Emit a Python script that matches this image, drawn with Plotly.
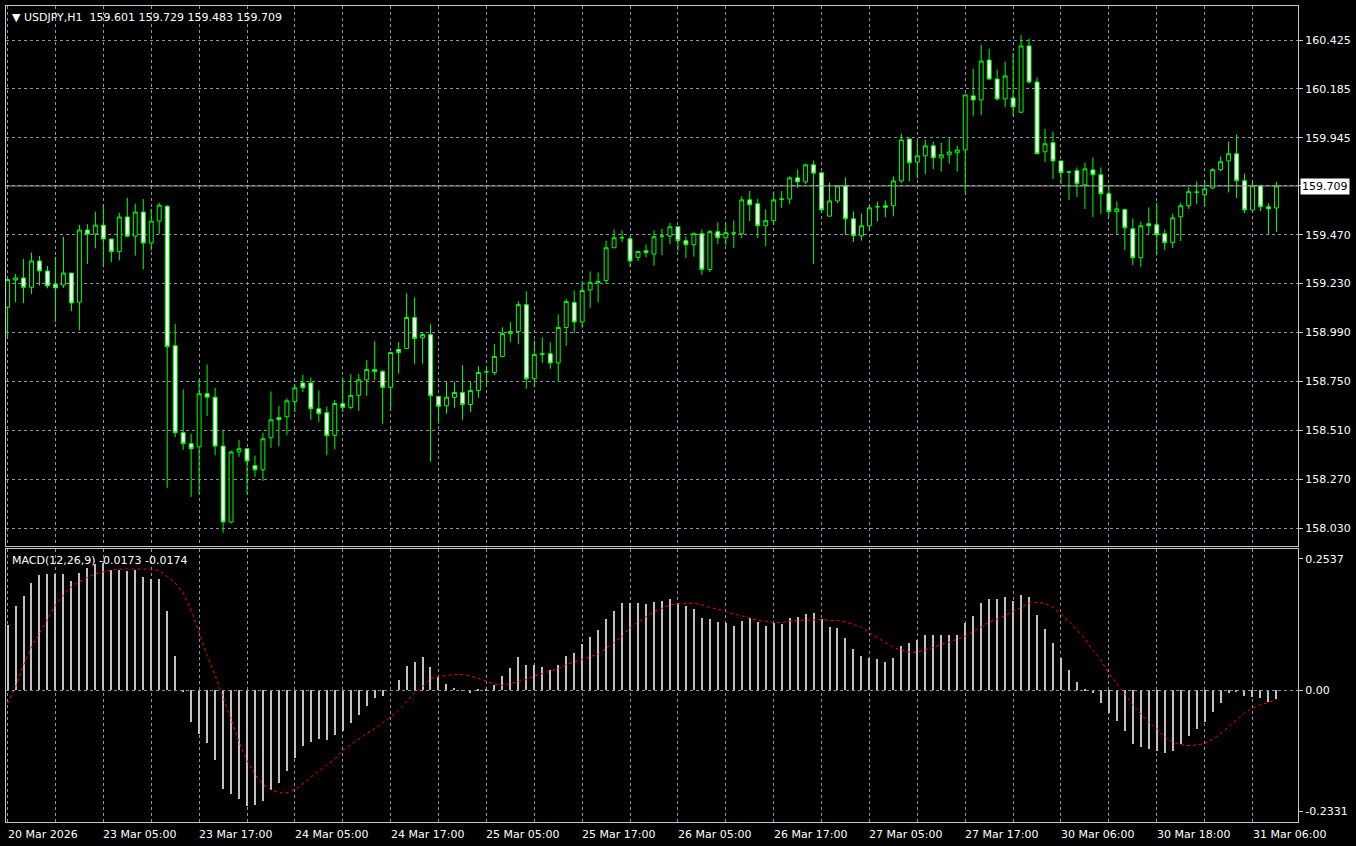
import plotly.graph_objects as go

# hourly USDJPY bars, oldest first
opens = [
    159.114, 159.248, 159.258, 159.212, 159.341, 159.292, 159.227, 159.223, 159.282, 159.139,
    159.493, 159.473, 159.517, 159.449, 159.388, 159.557, 159.463, 159.581, 159.429, 159.537,
    159.610, 158.925, 158.499, 158.445, 158.429, 158.690, 158.673, 158.433, 158.061, 158.404,
    158.420, 158.337, 158.317, 158.474, 158.573, 158.577, 158.651, 158.743, 158.743, 158.616,
    158.597, 158.486, 158.641, 158.623, 158.682, 158.758, 158.809, 158.799, 158.721, 158.907,
    158.912, 159.064, 158.964, 158.980, 158.677, 158.631, 158.672, 158.696, 158.637, 158.706,
    158.797, 158.794, 158.873, 158.985, 158.995, 159.127, 158.763, 158.882, 158.886, 158.841,
    159.015, 159.137, 159.042, 159.199, 159.235, 159.245, 159.406, 159.455, 159.450, 159.359,
    159.391, 159.375, 159.463, 159.463, 159.509, 159.441, 159.421, 159.475, 159.299, 159.485,
    159.455, 159.478, 159.475, 159.641, 159.622, 159.514, 159.539, 159.643, 159.645, 159.749,
    159.729, 159.813, 159.774, 159.561, 159.636, 159.710, 159.548, 159.465, 159.514, 159.607,
    159.612, 159.612, 159.734, 159.940, 159.826, 159.857, 159.906, 159.847, 159.862, 159.872,
    159.886, 160.151, 160.131, 160.327, 160.234, 160.136, 160.141, 160.071, 160.396, 160.219,
    159.877, 159.921, 159.832, 159.777, 159.784, 159.715, 159.788, 159.764, 159.671, 159.583,
    159.593, 159.499, 159.357, 159.524, 159.519, 159.475, 159.431, 159.558, 159.612, 159.679,
    159.666, 159.699, 159.789, 159.832, 159.867, 159.735, 159.591, 159.710, 159.607, 159.601,
]
highs = [
    159.250, 159.277, 159.351, 159.382, 159.366, 159.317, 159.361, 159.460, 159.282, 159.519,
    159.522, 159.583, 159.615, 159.449, 159.578, 159.651, 159.622, 159.645, 159.597, 159.627,
    159.615, 159.033, 158.711, 158.494, 158.760, 158.833, 158.719, 158.513, 158.412, 158.464,
    158.420, 158.386, 158.499, 158.701, 158.631, 158.667, 158.735, 158.783, 158.770, 158.706,
    158.627, 158.659, 158.770, 158.786, 158.786, 158.855, 158.948, 158.806, 158.892, 158.943,
    159.183, 159.163, 158.992, 159.031, 158.677, 158.748, 158.748, 158.830, 158.748, 158.825,
    158.825, 158.933, 159.016, 159.041, 159.144, 159.193, 158.952, 158.967, 158.943, 159.080,
    159.155, 159.197, 159.241, 159.290, 159.285, 159.441, 159.496, 159.491, 159.462, 159.388,
    159.422, 159.491, 159.499, 159.529, 159.509, 159.462, 159.481, 159.496, 159.493, 159.530,
    159.527, 159.540, 159.658, 159.685, 159.646, 159.594, 159.682, 159.685, 159.756, 159.790,
    159.819, 159.834, 159.774, 159.726, 159.710, 159.751, 159.584, 159.574, 159.617, 159.633,
    159.638, 159.756, 159.966, 159.940, 159.935, 159.937, 159.927, 159.922, 159.943, 159.907,
    160.156, 160.285, 160.402, 160.383, 160.280, 160.319, 160.363, 160.449, 160.431, 160.241,
    159.989, 159.976, 159.832, 159.784, 159.800, 159.824, 159.849, 159.800, 159.715, 159.633,
    159.599, 159.550, 159.535, 159.604, 159.627, 159.496, 159.574, 159.627, 159.702, 159.731,
    159.735, 159.797, 159.854, 159.927, 159.961, 159.770, 159.733, 159.715, 159.624, 159.729,
]
lows = [
    158.959, 159.139, 159.134, 159.179, 159.220, 159.207, 159.041, 159.209, 159.095, 159.002,
    159.326, 159.403, 159.315, 159.335, 159.344, 159.457, 159.367, 159.300, 159.393, 159.473,
    158.228, 158.477, 158.415, 158.184, 158.200, 158.580, 158.388, 158.007, 158.053, 158.380,
    158.200, 158.282, 158.262, 158.424, 158.433, 158.486, 158.600, 158.698, 158.562, 158.551,
    158.388, 158.417, 158.600, 158.613, 158.606, 158.680, 158.757, 158.543, 158.613, 158.788,
    158.912, 158.837, 158.837, 158.357, 158.543, 158.592, 158.621, 158.562, 158.600, 158.670,
    158.735, 158.781, 158.868, 158.944, 158.933, 158.714, 158.721, 158.841, 158.812, 158.752,
    158.925, 158.988, 159.013, 159.111, 159.138, 159.230, 159.406, 159.434, 159.312, 159.341,
    159.359, 159.318, 159.369, 159.424, 159.392, 159.356, 159.362, 159.273, 159.287, 159.424,
    159.418, 159.405, 159.454, 159.537, 159.454, 159.414, 159.517, 159.601, 159.620, 159.699,
    159.718, 159.326, 159.578, 159.561, 159.625, 159.470, 159.434, 159.441, 159.488, 159.535,
    159.555, 159.560, 159.723, 159.731, 159.747, 159.767, 159.792, 159.780, 159.819, 159.780,
    159.674, 160.050, 160.056, 160.227, 160.128, 160.095, 160.053, 160.066, 160.211, 159.867,
    159.826, 159.743, 159.718, 159.640, 159.655, 159.596, 159.557, 159.572, 159.558, 159.473,
    159.395, 159.321, 159.311, 159.473, 159.368, 159.395, 159.405, 159.439, 159.596, 159.620,
    159.607, 159.695, 159.782, 159.677, 159.650, 159.576, 159.591, 159.586, 159.469, 159.483,
]
closes = [
    159.250, 159.258, 159.212, 159.341, 159.292, 159.219, 159.209, 159.282, 159.135, 159.493,
    159.473, 159.517, 159.449, 159.387, 159.557, 159.463, 159.581, 159.429, 159.537, 159.615,
    158.921, 158.499, 158.445, 158.420, 158.690, 158.673, 158.433, 158.061, 158.404, 158.420,
    158.360, 158.317, 158.469, 158.562, 158.562, 158.655, 158.719, 158.719, 158.616, 158.592,
    158.484, 158.642, 158.623, 158.682, 158.758, 158.809, 158.799, 158.721, 158.892, 158.892,
    159.064, 158.961, 158.980, 158.680, 158.628, 158.673, 158.696, 158.637, 158.706, 158.794,
    158.797, 158.873, 158.985, 158.995, 159.127, 158.763, 158.882, 158.886, 158.841, 159.015,
    159.142, 159.042, 159.196, 159.235, 159.241, 159.406, 159.455, 159.455, 159.341, 159.388,
    159.382, 159.460, 159.463, 159.509, 159.441, 159.421, 159.475, 159.299, 159.485, 159.455,
    159.480, 159.478, 159.641, 159.617, 159.514, 159.539, 159.641, 159.645, 159.749, 159.729,
    159.813, 159.772, 159.592, 159.636, 159.710, 159.548, 159.465, 159.514, 159.602, 159.607,
    159.605, 159.734, 159.935, 159.823, 159.857, 159.906, 159.847, 159.862, 159.876, 159.886,
    160.156, 160.131, 160.322, 160.234, 160.136, 160.249, 160.097, 160.396, 160.219, 159.867,
    159.916, 159.832, 159.774, 159.777, 159.720, 159.793, 159.764, 159.671, 159.584, 159.597,
    159.504, 159.357, 159.514, 159.514, 159.470, 159.431, 159.553, 159.612, 159.681, 159.679,
    159.695, 159.789, 159.828, 159.867, 159.735, 159.592, 159.710, 159.607, 159.597, 159.709,
]
macd_hist = [
    0.126, 0.161, 0.182, 0.207, 0.221, 0.223, 0.223, 0.223, 0.210, 0.226,
    0.236, 0.242, 0.245, 0.232, 0.231, 0.230, 0.231, 0.217, 0.213, 0.213,
    0.152, 0.066, -0.003, -0.061, -0.084, -0.101, -0.135, -0.190, -0.200, -0.209,
    -0.223, -0.221, -0.213, -0.193, -0.178, -0.155, -0.130, -0.107, -0.099, -0.094,
    -0.097, -0.086, -0.079, -0.064, -0.047, -0.030, -0.016, -0.012, 0.000, 0.020,
    0.047, 0.055, 0.064, 0.045, 0.026, 0.012, 0.005, -0.001, -0.006, 0.001,
    0.001, 0.010, 0.028, 0.043, 0.064, 0.049, 0.048, 0.045, 0.039, 0.049,
    0.066, 0.072, 0.088, 0.103, 0.115, 0.136, 0.153, 0.167, 0.167, 0.167,
    0.165, 0.169, 0.171, 0.175, 0.168, 0.161, 0.157, 0.138, 0.136, 0.132,
    0.129, 0.124, 0.134, 0.138, 0.131, 0.124, 0.129, 0.128, 0.138, 0.140,
    0.147, 0.149, 0.136, 0.122, 0.120, 0.101, 0.080, 0.066, 0.061, 0.059,
    0.055, 0.062, 0.084, 0.091, 0.097, 0.107, 0.107, 0.107, 0.107, 0.107,
    0.129, 0.142, 0.167, 0.176, 0.175, 0.180, 0.171, 0.184, 0.180, 0.144,
    0.118, 0.090, 0.061, 0.039, 0.016, 0.003, -0.006, -0.024, -0.044, -0.059,
    -0.078, -0.103, -0.109, -0.113, -0.118, -0.122, -0.117, -0.104, -0.088, -0.074,
    -0.062, -0.043, -0.024, -0.006, -0.003, -0.012, -0.014, -0.016, -0.022, -0.0173,
]
macd_signal = [
    -0.025, 0.007, 0.049, 0.084, 0.110, 0.139, 0.165, 0.184, 0.200, 0.210,
    0.218, 0.225, 0.229, 0.232, 0.234, 0.234, 0.234, 0.234, 0.234, 0.231,
    0.220, 0.207, 0.188, 0.155, 0.110, 0.068, 0.030, -0.012, -0.057, -0.099,
    -0.135, -0.162, -0.180, -0.191, -0.197, -0.197, -0.191, -0.180, -0.167, -0.155,
    -0.143, -0.132, -0.115, -0.104, -0.094, -0.083, -0.073, -0.062, -0.051, -0.038,
    -0.022, -0.005, 0.008, 0.023, 0.027, 0.029, 0.031, 0.031, 0.028, 0.024,
    0.018, 0.012, 0.010, 0.014, 0.017, 0.021, 0.028, 0.033, 0.037, 0.042,
    0.050, 0.055, 0.059, 0.065, 0.070, 0.081, 0.092, 0.104, 0.122, 0.131,
    0.142, 0.152, 0.158, 0.165, 0.167, 0.168, 0.168, 0.165, 0.160, 0.157,
    0.152, 0.147, 0.144, 0.139, 0.135, 0.133, 0.131, 0.131, 0.134, 0.135,
    0.136, 0.137, 0.137, 0.135, 0.135, 0.132, 0.127, 0.122, 0.111, 0.102,
    0.092, 0.083, 0.078, 0.074, 0.074, 0.078, 0.083, 0.089, 0.093, 0.099,
    0.105, 0.113, 0.123, 0.132, 0.138, 0.144, 0.152, 0.160, 0.168, 0.170,
    0.168, 0.160, 0.146, 0.133, 0.117, 0.099, 0.078, 0.059, 0.033, 0.014,
    -0.006, -0.028, -0.044, -0.061, -0.073, -0.090, -0.099, -0.104, -0.106, -0.105,
    -0.102, -0.094, -0.083, -0.070, -0.057, -0.043, -0.034, -0.027, -0.023, -0.0174,
]
time_labels = ["20 Mar 2026", "23 Mar 05:00", "23 Mar 17:00", "24 Mar 05:00", "24 Mar 17:00",
               "25 Mar 05:00", "25 Mar 17:00", "26 Mar 05:00", "26 Mar 17:00", "27 Mar 05:00",
               "27 Mar 17:00", "30 Mar 06:00", "30 Mar 18:00", "31 Mar 06:00"]
price_ticks = [158.030, 158.270, 158.510, 158.750, 158.990, 159.230, 159.470,
               159.710, 159.945, 160.185, 160.425]
price_tick_text = ["158.030", "158.270", "158.510", "158.750", "158.990", "159.230", "159.470",
                   "", "159.945", "160.185", "160.425"]
macd_ticks = [-0.2331, 0.0, 0.2537]
macd_tick_text = ["-0.2331", "0.00", "0.2537"]
last_price = 159.709

bars = list(range(len(closes)))
GRID = "#8a94a6"
DASH = "3px,3px"
FONT = "DejaVu Sans"
x_range = [-0.2, 161.7]

fig = go.Figure()
fig.add_trace(go.Candlestick(
    x=bars, open=opens, high=highs, low=lows, close=closes,
    increasing=dict(line=dict(color="#00ff00", width=1), fillcolor="black"),
    decreasing=dict(line=dict(color="#00ff00", width=1), fillcolor="white"),
    whiskerwidth=0, xaxis="x", yaxis="y", hoverinfo="skip",
))
fig.add_trace(go.Bar(x=bars, y=macd_hist, width=0.14, marker=dict(color="#c0c0c0", line_width=0),
                     xaxis="x2", yaxis="y2"))
fig.add_trace(go.Scatter(x=bars, y=macd_signal, mode="lines",
                         line=dict(color="red", width=1, dash="dot"), xaxis="x2", yaxis="y2"))

xaxis_common = dict(range=x_range, tickmode="linear", tick0=0, dtick=6, showticklabels=False,
                    showgrid=True, gridcolor=GRID, griddash=DASH, gridwidth=1, zeroline=False,
                    showline=True, linecolor="#c8c8c8", mirror=True, rangeslider=dict(visible=False))

fig.update_layout(
    width=1356, height=846,
    paper_bgcolor="black", plot_bgcolor="black",
    margin=dict(l=5, r=56, t=5, b=24),
    showlegend=False, bargap=0,
    font=dict(family=FONT, size=11, color="white"),
    xaxis=dict(xaxis_common, domain=[0, 1], anchor="y"),
    xaxis2=dict(xaxis_common, domain=[0, 1], anchor="y2", matches="x"),
    yaxis=dict(domain=[0.338, 1], range=[157.942, 160.592], side="right",
               tickvals=price_ticks, ticktext=price_tick_text, ticks="outside", ticklen=4,
               tickcolor="#c8c8c8", showgrid=True, gridcolor=GRID, griddash=DASH,
               zeroline=False, showline=True, linecolor="#c8c8c8", mirror=True,
               tickfont=dict(size=11, color="white")),
    yaxis2=dict(domain=[0, 0.334], range=[-0.2331 - 0.02, 0.2537 + 0.018], side="right",
                tickvals=macd_ticks, ticktext=macd_tick_text, ticks="outside", ticklen=4,
                tickcolor="#c8c8c8", showgrid=False, zeroline=False, showline=True,
                linecolor="#c8c8c8", mirror=True, tickfont=dict(size=11, color="white")),
)

# zero line of MACD and current price line
fig.add_shape(type="line", xref="x2 domain", yref="y2", x0=0, x1=1, y0=0, y1=0,
              line=dict(color=GRID, width=1, dash=DASH))
fig.add_shape(type="line", xref="x domain", yref="y", x0=0, x1=1, y0=last_price, y1=last_price,
              line=dict(color="#a0a0a0", width=1))
fig.add_annotation(xref="paper", yref="y", x=1.0, y=last_price, text=f"{last_price:.3f}",
                   showarrow=False, xanchor="left", xshift=2, bgcolor="white",
                   font=dict(color="black", size=11), borderpad=1)

# headers
fig.add_annotation(xref="paper", yref="paper", x=0.003, y=1.0, yshift=-3, xanchor="left",
                   yanchor="top", showarrow=False,
                   text="▼ USDJPY,H1  %.3f %.3f %.3f %.3f" % (opens[-1], highs[-1], lows[-1], closes[-1]))
fig.add_annotation(xref="paper", yref="paper", x=0.003, y=0.334, yshift=-3, xanchor="left",
                   yanchor="top", showarrow=False,
                   text="MACD(12,26,9) %.4f %.4f" % (macd_hist[-1], macd_signal[-1]))

# time labels every 12 bars, left aligned like the terminal
for k, label in enumerate(time_labels):
    fig.add_annotation(xref="x2", yref="paper", x=12 * k, y=0, yshift=-4, xshift=-2,
                       xanchor="left", yanchor="top", showarrow=False, text=label)

fig.write_html("out.html", config={"displayModeBar": False},
               post_script="document.body.style.margin='0';document.body.style.background='black';")
